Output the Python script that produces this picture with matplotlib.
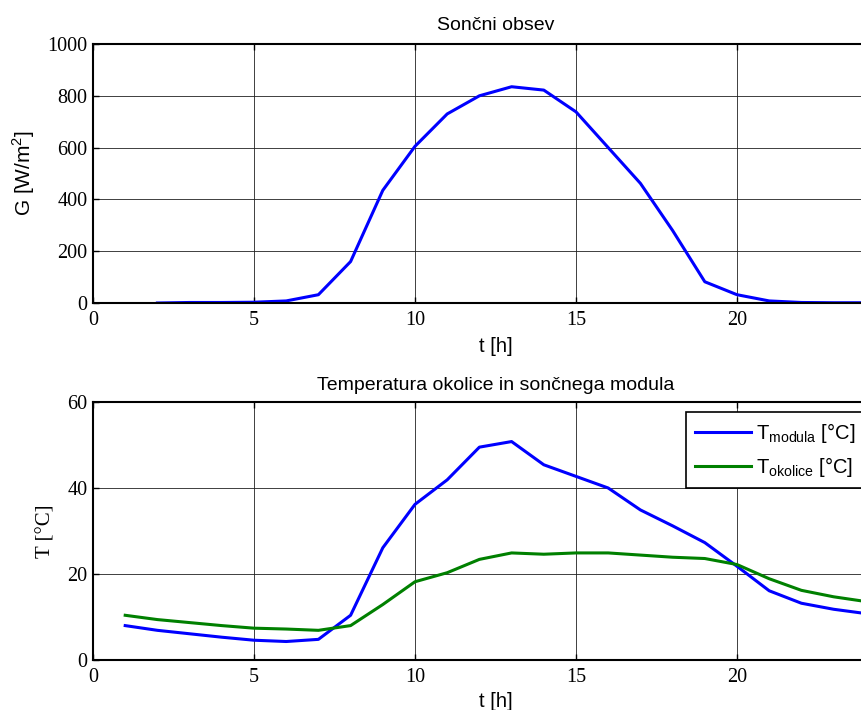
import matplotlib
matplotlib.use("Agg")
import matplotlib.pyplot as plt

# hourly solar irradiance
t_g = [2, 3, 4, 5, 6, 7, 8, 9, 10, 11, 12, 13, 14, 15, 16, 17, 18, 19, 20, 21, 22, 23, 24, 25]
g = [0, 2, 2, 3, 8, 32, 160, 435, 605, 730, 800, 835, 822, 738, 600, 462, 280, 82, 32, 8, 2, 1, 1, 1]

# module and ambient temperature
t_t = list(range(1, 26))
t_modula = [8.0, 6.9, 6.1, 5.3, 4.6, 4.3, 4.8, 10.4, 26.1, 36.2, 41.9, 49.5, 50.8, 45.4, 42.7,
            40.0, 34.9, 31.2, 27.3, 21.8, 16.1, 13.2, 11.8, 10.8, 9.8]
t_okolice = [10.4, 9.4, 8.7, 8.0, 7.4, 7.2, 6.9, 8.0, 12.9, 18.2, 20.3, 23.4, 24.9, 24.6, 24.9,
             24.9, 24.4, 23.9, 23.6, 22.2, 18.9, 16.2, 14.7, 13.6, 12.8]

x_ticks = [0, 5, 10, 15, 20, 25]
x_ticklabels = ["0", "5", "10", "15", "20", ""]

SANS = "Liberation Sans"
SERIF = "Liberation Serif"
matplotlib.rcParams["mathtext.fontset"] = "custom"
matplotlib.rcParams["mathtext.rm"] = SANS

fig = plt.figure(figsize=(8.62, 7.10), dpi=100)
W, H = 862, 710
ax1 = fig.add_axes([93 / W, 1 - 303 / H, 805 / W, 259 / H])
ax2 = fig.add_axes([93 / W, 1 - 660 / H, 805 / W, 258 / H])


def style(ax, yticks):
    ax.set_xlim(0, 25)
    ax.set_xticks(x_ticks)
    ax.set_xticklabels(x_ticklabels)
    ax.set_yticks(yticks)
    ax.set_ylim(yticks[0], yticks[-1])
    ax.grid(True, color="#202020", lw=0.6)
    ax.tick_params(direction="in", length=4, width=1, labelsize=14.5, pad=4,
                   top=True, right=True)
    ax.tick_params(axis="x", pad=6)
    for lab in ax.get_xticklabels() + ax.get_yticklabels():
        lab.set_fontfamily(SERIF)
    for s in ax.spines.values():
        s.set_linewidth(1.5)


ax1.plot(t_g, g, color="#0000ff", lw=2.2)
style(ax1, [0, 200, 400, 600, 800, 1000])
ax1.set_title("Sončni obsev", fontfamily=SANS, fontsize=14, pad=10)
ax1.set_xlabel("t [h]", fontfamily=SANS, fontsize=14.5)
ax1.xaxis.set_label_coords(0.5, -0.13)
ax1.set_ylabel("G [W/m$^2$]", fontfamily=SANS, fontsize=15)
ax1.yaxis.set_label_coords(-0.07, 0.5)

ax2.plot(t_t, t_modula, color="#0000ff", lw=2.2, label="T$_{\\mathrm{modula}}$ [°C]")
ax2.plot(t_t, t_okolice, color="#008000", lw=2.2, label="T$_{\\mathrm{okolice}}$ [°C]")
style(ax2, [0, 20, 40, 60])
ax2.set_title("Temperatura okolice in sončnega modula", fontfamily=SANS, fontsize=14, pad=9)
ax2.set_xlabel("t [h]", fontfamily=SANS, fontsize=14.5)
ax2.xaxis.set_label_coords(0.5, -0.125)
ax2.set_ylabel("T [°C]", fontfamily=SERIF, fontsize=15)
ax2.yaxis.set_label_coords(-0.047, 0.5)

leg = ax2.legend(loc="upper left", bbox_to_anchor=(686 / W, 1 - 412 / H),
                 bbox_transform=fig.transFigure, fancybox=False, framealpha=1,
                 edgecolor="black", prop={"family": SANS, "size": 14.5},
                 handlelength=2.8, borderpad=0.45, labelspacing=0.5, handletextpad=0.25,
                 borderaxespad=0)
leg.get_frame().set_linewidth(1.2)

fig.savefig("out.png", dpi=100)
